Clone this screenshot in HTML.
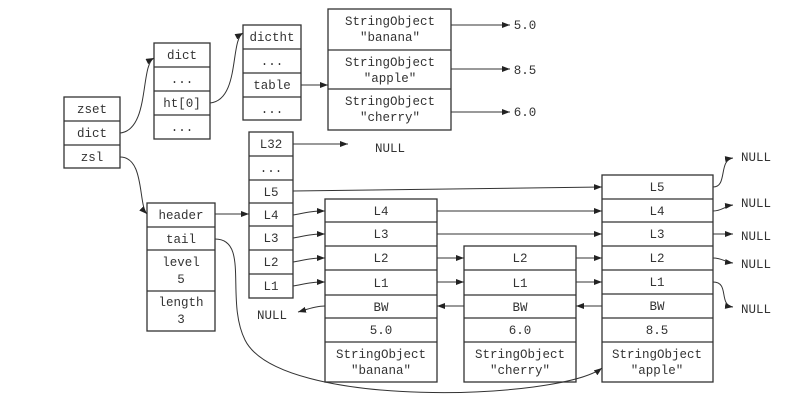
<!DOCTYPE html>
<html><head><style>
body{margin:0;background:#fff}
svg text{font-family:"Liberation Mono",monospace;font-size:12.5px;fill:#333;text-anchor:middle}
</style></head><body>
<svg width="800" height="411" viewBox="0 0 800 411">
<defs><marker id="a" markerWidth="8" markerHeight="6" refX="8" refY="3" orient="auto" markerUnits="userSpaceOnUse"><path d="M0,0L8,3L0,6z" fill="#222"/></marker></defs>
<g fill="#fff" stroke="#333" stroke-width="1.3">
<rect x="64" y="97" width="56" height="71"/><path d="M64 121H120M64 145H120"/>
<rect x="154" y="43" width="56" height="96"/><path d="M154 67H210M154 91H210M154 115H210"/>
<rect x="243" y="25" width="58" height="95"/><path d="M243 49H301M243 73H301M243 97H301"/>
<rect x="328" y="9" width="123" height="121"/><path d="M328 50H451M328 89H451"/>
<rect x="249" y="132" width="44" height="166"/><path d="M249 156H293M249 180H293M249 203H293M249 226H293M249 250H293M249 274H293"/>
<rect x="147" y="203" width="68" height="128"/><path d="M147 227H215M147 250H215M147 291H215"/>
<rect x="325" y="199" width="112" height="183"/><path d="M325 222H437M325 246H437M325 270H437M325 295H437M325 318H437M325 342H437"/>
<rect x="464" y="246" width="112" height="136"/><path d="M464 270H576M464 295H576M464 318H576M464 342H576"/>
<rect x="602" y="175" width="111" height="207"/><path d="M602 199H713M602 222H713M602 246H713M602 270H713M602 294H713M602 318H713M602 342H713"/>
</g>
<g>
<text x="92" y="113">zset</text><text x="92" y="137">dict</text><text x="92" y="161">zsl</text>
<text x="182" y="59">dict</text><text x="182" y="83">...</text><text x="182" y="107">ht[0]</text><text x="182" y="131">...</text>
<text x="272" y="41">dictht</text><text x="272" y="65">...</text><text x="272" y="89">table</text><text x="272" y="113">...</text>
<text x="390" y="25">StringObject</text><text x="390" y="41">"banana"</text>
<text x="390" y="66">StringObject</text><text x="390" y="82">"apple"</text>
<text x="390" y="105">StringObject</text><text x="390" y="121">"cherry"</text>
<text x="525" y="29">5.0</text><text x="525" y="74">8.5</text><text x="525" y="116">6.0</text>
<text x="271" y="148">L32</text><text x="271" y="172">...</text><text x="271" y="196">L5</text><text x="271" y="219">L4</text><text x="271" y="242">L3</text><text x="271" y="266">L2</text><text x="271" y="290">L1</text>
<text x="390" y="152">NULL</text><text x="272" y="319">NULL</text>
<text x="181" y="219">header</text><text x="181" y="243">tail</text><text x="181" y="266">level</text><text x="181" y="283">5</text><text x="181" y="306">length</text><text x="181" y="323">3</text>
<text x="381" y="215">L4</text><text x="381" y="238">L3</text><text x="381" y="262">L2</text><text x="381" y="287">L1</text><text x="381" y="311">BW</text><text x="381" y="334">5.0</text><text x="381" y="358">StringObject</text><text x="381" y="374">"banana"</text>
<text x="520" y="262">L2</text><text x="520" y="287">L1</text><text x="520" y="311">BW</text><text x="520" y="334">6.0</text><text x="520" y="358">StringObject</text><text x="520" y="374">"cherry"</text>
<text x="657" y="191">L5</text><text x="657" y="215">L4</text><text x="657" y="238">L3</text><text x="657" y="262">L2</text><text x="657" y="286">L1</text><text x="657" y="310">BW</text><text x="657" y="334">8.5</text><text x="657" y="358">StringObject</text><text x="657" y="374">"apple"</text>
<text x="756" y="161">NULL</text><text x="756" y="207">NULL</text><text x="756" y="240">NULL</text><text x="756" y="268">NULL</text><text x="756" y="313">NULL</text>
</g>
<g fill="none" stroke="#333" stroke-width="1" marker-end="url(#a)">
<path d="M120 133C150 130 140 65 154 58"/>
<path d="M210 103C240 100 230 40 243 33"/>
<path d="M301 85H328"/>
<path d="M451 25H510"/><path d="M451 69H510"/><path d="M451 112H510"/>
<path d="M293 144H348"/>
<path d="M120 157C145 157 138 205 147 214"/>
<path d="M215 214H249"/>
<path d="M293 191L602 187"/>
<path d="M293 215C305 213 310 211 325 211"/><path d="M293 238C305 236 310 234 325 234"/><path d="M293 262C305 260 310 258 325 258"/><path d="M293 286C305 284 310 282 325 282"/>
<path d="M437 211H602"/><path d="M437 234H602"/>
<path d="M437 258H464"/><path d="M437 282H464"/>
<path d="M576 258H602"/><path d="M576 282H602"/>
<path d="M602 306H576"/><path d="M464 306H437"/>
<path d="M325 306C315 306 305 310 298 312"/>
<path d="M713 187C728 187 718 160 733 158"/>
<path d="M713 211C722 211 725 206 733 205"/>
<path d="M713 234H733"/>
<path d="M713 258C722 258 725 262 733 263"/>
<path d="M713 282C730 282 718 305 733 307"/>
<path d="M215 239C250 239 225 300 245 340C280 410 560 400 602 368"/>
</g>
</svg>
</body></html>
